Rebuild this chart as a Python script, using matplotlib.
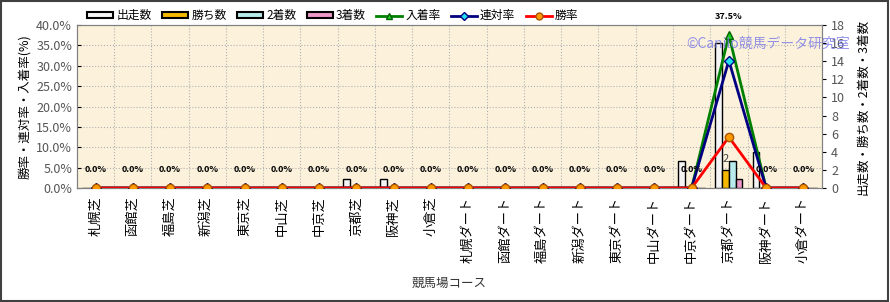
import matplotlib
matplotlib.use("Agg")
import matplotlib.pyplot as plt
import numpy as np
from matplotlib.patches import Rectangle
from matplotlib.lines import Line2D

plt.rcParams['font.family'] = ['Noto Sans CJK JP', 'DejaVu Sans']

courses = ["札幌芝", "函館芝", "福島芝", "新潟芝", "東京芝", "中山芝", "中京芝",
           "京都芝", "阪神芝", "小倉芝", "札幌ダート", "函館ダート", "福島ダート",
           "新潟ダート", "東京ダート", "中山ダート", "中京ダート", "京都ダート",
           "阪神ダート", "小倉ダート"]
starts = [0, 0, 0, 0, 0, 0, 0, 1, 1, 0, 0, 0, 0, 0, 0, 0, 3, 16, 4, 0]
wins = [0] * 17 + [2, 0, 0]
seconds = [0] * 17 + [3, 0, 0]
thirds = [0] * 17 + [1, 0, 0]
place_rate = [0.0] * 17 + [37.5, 0.0, 0.0]
rentai_rate = [0.0] * 17 + [31.25, 0.0, 0.0]
win_rate = [0.0] * 17 + [12.5, 0.0, 0.0]

x = np.arange(len(courses))
fig = plt.figure(figsize=(8.9, 3.02), dpi=100)
fig.patch.set_facecolor("white")
ax = fig.add_axes([0.0865, 0.3775, 0.8371, 0.5397])
ax.set_facecolor("#fcf2dc")
ax2 = ax.twinx()

# bars on primary axis (count scale, shown at right)
w = 0.18
bar_specs = [(starts, "#f4f4f4"), (wins, "#f5b800"), (seconds, "#b8ecec"), (thirds, "#ee98c8")]
for i, (vals, col) in enumerate(bar_specs):
    ax.bar(x + (i - 1.5) * w, vals, width=w, color=col, edgecolor="black", linewidth=1, zorder=3)
ax.text(x[17] - 0.5 * w, 2.6, str(wins[17]), ha="center", va="bottom", fontsize=8, color="#444444", zorder=4)

ax.set_ylim(0, 18)
ax.set_yticks(np.arange(0, 19, 2))
ax.set_yticks(np.linspace(0, 18, 9), minor=True)
ax.yaxis.tick_right()
ax.yaxis.set_label_position("right")
ax.tick_params(axis="y", which="minor", length=0)
ax.tick_params(axis="y", which="major", labelsize=9, labelcolor="#555555", length=3, direction="out")
ax.set_xlim(-0.5, len(courses) - 0.5)
ax.set_xticks(x)
ax.set_xticklabels(courses, rotation=90, fontsize=9.5)
ax.set_xticks(np.arange(0.5, len(courses) - 0.5, 1), minor=True)
ax.tick_params(axis="x", which="both", length=0, pad=6)
ax.grid(True, which="minor", color="#b0b0b0", linestyle=":", linewidth=0.8, zorder=0)
ax.set_ylabel("出走数・勝ち数・2着数・3着数", fontsize=9, rotation=90, labelpad=8)
ax.set_xlabel("競馬場コース", fontsize=9, color="#333333", labelpad=10)
for s in ax.spines.values():
    s.set_color("#808080")
ax.set_axisbelow(True)

# lines on twin axis (rate scale, shown at left)
ax2.yaxis.tick_left()
ax2.yaxis.set_label_position("left")
ax2.plot(x, place_rate, color="#008000", lw=2, marker="^", ms=6, mfc="#20d020", mec="#006000", zorder=3)
ax2.plot(x, rentai_rate, color="#000080", lw=2, marker="D", ms=5, mfc="#20e0f0", mec="#000080", zorder=4)
ax2.plot(x, win_rate, color="#ff0000", lw=2, marker="o", ms=6, mfc="#ff9900", mec="#aa5500", zorder=5)
ax2.set_ylim(0, 40)
ax2.set_yticks(np.arange(0, 41, 5))
ax2.set_yticklabels(["%.1f%%" % v for v in np.arange(0, 41, 5)])
ax2.tick_params(axis="y", labelsize=9, labelcolor="#555555", length=3, direction="in")
ax2.set_ylabel("勝率・連対率・入着率(%)", fontsize=9, labelpad=4)
for xi, v in zip(x, place_rate):
    ax2.text(xi, v + 3.5, "%.1f%%" % v, ha="center", va="bottom", fontsize=6.5,
             fontweight="bold", clip_on=False, zorder=6)
for s in ax2.spines.values():
    s.set_color("#808080")

fig.text(0.771, 0.855, "©Canilo競馬データ研究室", fontsize=10, color="#7878e8", alpha=0.8,
         ha="left", va="center", zorder=10)

handles = [Rectangle((0, 0), 1, 1, fc="#f4f4f4", ec="black", lw=1.5),
           Rectangle((0, 0), 1, 1, fc="#f5b800", ec="black", lw=1.5),
           Rectangle((0, 0), 1, 1, fc="#b8ecec", ec="black", lw=1.5),
           Rectangle((0, 0), 1, 1, fc="#ee98c8", ec="black", lw=1.5),
           Line2D([], [], color="#008000", lw=2, marker="^", ms=5, mfc="#20d020", mec="#006000"),
           Line2D([], [], color="#000080", lw=2, marker="D", ms=4, mfc="#20e0f0", mec="#000080"),
           Line2D([], [], color="#ff0000", lw=2, marker="o", ms=5, mfc="#ff9900", mec="#aa5500")]
labels = ["出走数", "勝ち数", "2着数", "3着数", "入着率", "連対率", "勝率"]
fig.legend(handles, labels, loc="center left", bbox_to_anchor=(0.093, 0.948), ncol=7,
           frameon=False, fontsize=8.5, handlelength=2.2, handleheight=0.45,
           handletextpad=0.25, columnspacing=0.9, borderaxespad=0)

fig.add_artist(Rectangle((0.001, 0.002), 0.997, 0.995, transform=fig.transFigure,
                         fill=False, ec="#404040", lw=1.5))
fig.savefig("out.png", dpi=100)
